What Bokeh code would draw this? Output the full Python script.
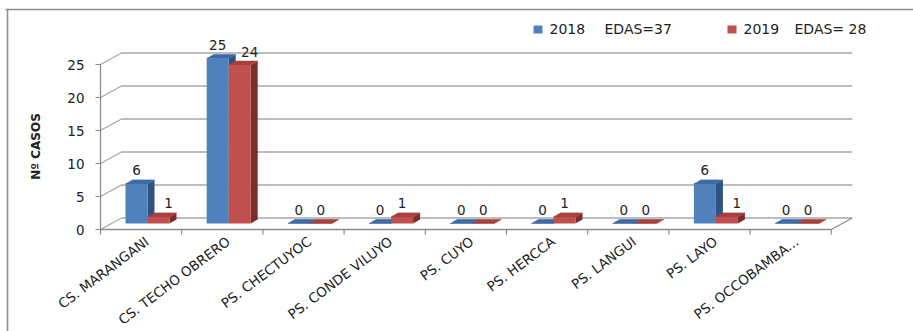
import math

from bokeh.core.properties import value
from bokeh.embed import file_html
from bokeh.models import Range1d
from bokeh.plotting import figure
from bokeh.resources import INLINE

# ---- data -----------------------------------------------------------------
establecimientos = [
    "CS. MARANGANI", "CS. TECHO OBRERO", "PS. CHECTUYOC", "PS. CONDE VILUYO",
    "PS. CUYO", "PS. HERCCA", "PS. LANGUI", "PS. LAYO", "PS. OCCOBAMBA...",
]
casos_2018 = [6, 25, 0, 0, 0, 0, 0, 6, 0]
casos_2019 = [1, 24, 0, 1, 0, 1, 0, 1, 0]
y_ticks = [0, 5, 10, 15, 20, 25]
serie_anios = ["2018", "2019"]
serie_edas = ["EDAS=37", "EDAS= 28"]
y_title = "Nº CASOS"

# ---- layout (page pixels) -------------------------------------------------
W, H = 913, 331
X0, CAT_W = 100.0, 81.2      # left end of the category axis, px per category
Y0, UNIT = 229.0, 6.6        # baseline of the value axis, px per case
N = len(establecimientos)
Y_MAX = y_ticks[-1]


def dx(px):
    return px / CAT_W


def dy(px):
    return px / UNIT


def xd(px):
    return (px - X0) / CAT_W


def yd(py):
    return (Y0 - py) / UNIT


WALL_DX, WALL_DY = dx(21), dy(11.5)   # depth of the floor / back wall
BAR_OFF, BAR_W = 25.0, 22.0           # bar position inside a category
LIFT = dy(6)                          # bars stand half-way into the floor
SIDE_DX, SIDE_DY = dx(7), dy(4)       # depth of each bar

FACE = {
    "2018": ("#4F81BD", "#3E6BA5", "#2F5283"),
    "2019": ("#C0504D", "#A6403D", "#7E2C2A"),
}
GRID = "#A8A8A8"
AXIS = "#8C8C8C"
TXT = "#222222"
FONT = value("DejaVu Sans")

p = figure(
    width=W, height=H, output_backend="svg", toolbar_location=None,
    x_range=Range1d(xd(0), xd(W)), y_range=Range1d(yd(H), yd(0)),
    x_axis_location=None, y_axis_location=None,
    min_border=0, outline_line_color=None, background_fill_color="white",
)
p.grid.visible = False

# outer frame of the chart area
p.multi_line(
    xs=[[xd(5), xd(W)], [xd(7), xd(7)]],
    ys=[[yd(9), yd(9)], [yd(9), yd(H)]],
    line_color="#8E8E8E", line_width=1.6,
)

# left wall diagonals and back-wall gridlines
wall_xs, wall_ys = [], []
for t in y_ticks:
    wall_xs.append([0, WALL_DX, N + WALL_DX])
    wall_ys.append([t, t + WALL_DY, t + WALL_DY])
p.multi_line(xs=wall_xs, ys=wall_ys, line_color=GRID, line_width=1.4)

# floor edges, value axis and category axis
p.multi_line(
    xs=[[0, 0], [0, N], [N, N + WALL_DX]],
    ys=[[0, Y_MAX], [0, 0], [0, WALL_DY]],
    line_color=AXIS, line_width=1.3,
)
p.segment(x0=[0] * len(y_ticks), y0=y_ticks, x1=[dx(-5)] * len(y_ticks),
          y1=y_ticks, line_color=AXIS, line_width=1.2)
p.segment(x0=list(range(N + 1)), y0=[0] * (N + 1), x1=list(range(N + 1)),
          y1=[dy(-5)] * (N + 1), line_color=AXIS, line_width=1.2)
p.text(x=[dx(-16)] * len(y_ticks), y=y_ticks, text=[str(t) for t in y_ticks],
       text_align="right", text_baseline="middle", text_font=FONT,
       text_font_size="13.5px", text_color=TXT)

# category labels
p.text(x=[i + 0.5 + dx(6) for i in range(N)], y=[dy(-10)] * N,
       text=establecimientos, angle=math.radians(37), text_align="right",
       text_baseline="middle", text_font=FONT, text_font_size="13.5px",
       text_color=TXT)

# y-axis title
p.text(x=[xd(35)], y=[yd(146)], text=[y_title], angle=math.pi / 2,
       text_align="center", text_baseline="middle", text_font=FONT,
       text_font_size="12px", text_font_style="bold", text_color=TXT)

# 3-D columns: side, top and front faces per series
for s, (anio, vals) in enumerate(zip(serie_anios, [casos_2018, casos_2019])):
    front, top, side = FACE[anio]
    left = [i + dx(BAR_OFF + s * BAR_W) for i in range(N)]
    right = [l + dx(BAR_W) for l in left]
    bottom = [LIFT] * N
    tops = [LIFT + v for v in vals]
    side_xs = [[r, r + SIDE_DX, r + SIDE_DX, r] for r in right]
    side_ys = [[b, b + SIDE_DY, t + SIDE_DY, t] for b, t in zip(bottom, tops)]
    top_xs = [[l, r, r + SIDE_DX, l + SIDE_DX] for l, r in zip(left, right)]
    top_ys = [[t, t, t + SIDE_DY, t + SIDE_DY] for t in tops]
    p.patches(xs=side_xs, ys=side_ys, fill_color=side, line_color=None)
    p.patches(xs=top_xs, ys=top_ys, fill_color=top, line_color=top,
              line_width=0.6)
    p.quad(left=left, right=right, bottom=bottom, top=tops,
           fill_color=front, line_color=None)

# value labels above each column
for s, vals in enumerate([casos_2018, casos_2019]):
    other = casos_2018 if s == 1 else None
    xs, ys = [], []
    for i, v in enumerate(vals):
        cx = i + dx(BAR_OFF + s * BAR_W + BAR_W / 2)
        if other is not None and other[i] > v:
            cx += dx(10)
        xs.append(cx)
        ys.append(LIFT + v + dy(13.5))
    p.text(x=xs, y=ys, text=[str(v) for v in vals], text_align="center",
           text_baseline="middle", text_font=FONT, text_font_size="13.5px",
           text_color=TXT)

# legend
leg_sq_x = [533, 727]
leg_anio_x = [549, 743]
leg_edas_x = [604, 794]
for k, anio in enumerate(serie_anios):
    p.quad(left=[xd(leg_sq_x[k])], right=[xd(leg_sq_x[k] + 9)],
           bottom=[yd(33)], top=[yd(25)], fill_color=FACE[anio][0],
           line_color=None)
    p.text(x=[xd(leg_anio_x[k]), xd(leg_edas_x[k])], y=[yd(28)] * 2,
           text=[anio, serie_edas[k]], text_align="left",
           text_baseline="middle", text_font=FONT, text_font_size="14px",
           text_color=TXT)

open("out.html", "w").write(file_html(p, INLINE))
